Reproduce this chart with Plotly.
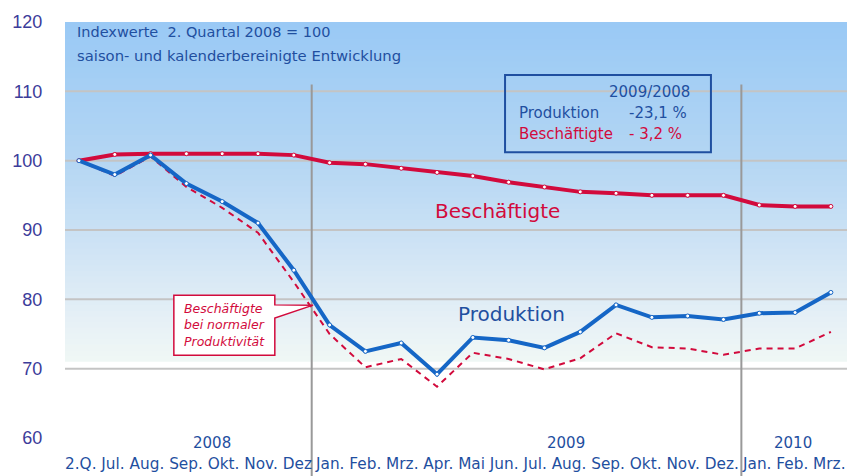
import plotly.graph_objects as go

# x categories (quarter 2/2008, then months up to March 2010)
MONTHS = ["2.Q.", "Jul.", "Aug.", "Sep.", "Okt.", "Nov.", "Dez",
          "Jan.", "Feb.", "Mrz.", "Apr.", "Mai", "Jun.", "Jul.", "Aug.",
          "Sep.", "Okt.", "Nov.", "Dez.", "Jan.", "Feb.", "Mrz."]
YEARS = ["2008", "2009", "2010"]

# index values, 2. Quartal 2008 = 100
PRODUKTION = [100.0, 98.0, 100.8, 96.7, 94.1, 91.0, 84.2, 76.3, 72.5, 73.7, 69.2,
              74.5, 74.1, 73.0, 75.3, 79.2, 77.4, 77.6, 77.1, 78.0, 78.1, 81.0]
BESCHAEFTIGTE = [100.0, 100.9, 101.0, 101.0, 101.0, 101.0, 100.8, 99.7, 99.5, 98.9, 98.3,
                 97.8, 96.9, 96.2, 95.5, 95.3, 95.0, 95.0, 95.0, 93.6, 93.4, 93.4]
NORMALE_PRODUKTIVITAET = [100.0, 97.8, 100.6, 96.2, 93.2, 89.6, 82.5, 75.0, 70.2, 71.4, 67.4,
                          72.3, 71.4, 69.9, 71.5, 75.1, 73.1, 72.9, 72.0, 72.9, 72.9, 75.3]

Y_TICKS = [60, 70, 80, 90, 100, 110, 120]
GRID_LINES = [70, 80, 90, 100, 110]
YEAR_BREAKS = [6.5, 18.5]

VERAENDERUNG = {"Produktion": "-23,1 %", "Beschäftigte": "- 3,2 %"}

BLUE = "#1566c6"
RED = "#d20a3c"
TEXT_BLUE = "#1f4fa0"
FONT = "DejaVu Sans"

x = list(range(len(MONTHS)))
X_RANGE = [-0.39, 21.45]

fig = go.Figure()

fig.add_trace(go.Scatter(
    x=x, y=NORMALE_PRODUKTIVITAET, mode="lines",
    line=dict(color=RED, width=2, dash="6px,5px"),
    hoverinfo="skip", showlegend=False
))
fig.add_trace(go.Scatter(
    x=x, y=BESCHAEFTIGTE, mode="lines+markers",
    line=dict(color=RED, width=4),
    marker=dict(size=4, color="white", line=dict(color=RED, width=1)),
    name="Beschäftigte", showlegend=False
))
fig.add_trace(go.Scatter(
    x=x, y=PRODUKTION, mode="lines+markers",
    line=dict(color=BLUE, width=4),
    marker=dict(size=4, color="white", line=dict(color=BLUE, width=1)),
    name="Produktion", showlegend=False
))

# background gradient (blue at top fading to near white around 71)
stops = [(120, (153, 201, 245)), (100, (180, 214, 243)), (85, (212, 230, 245)),
         (76, (232, 241, 246)), (71, (240, 247, 245))]
shapes = []
steps = 60
top, bottom = 120.0, 71.0
band = (top - bottom) / steps
for i in range(steps):
    y0 = top - band * i
    y1 = y0 - band
    ym = (y0 + y1) / 2
    for (ya, ca), (yb, cb) in zip(stops[:-1], stops[1:]):
        if yb <= ym <= ya:
            t = (ya - ym) / (ya - yb)
            c = [round(ca[k] + (cb[k] - ca[k]) * t) for k in range(3)]
            break
    # overlap the bands a little so no seams show between them
    lo = y1 - (band * 0.6 if i < steps - 1 else 0)
    shapes.append(dict(type="rect", xref="paper", yref="y", x0=0, x1=1, y0=lo, y1=y0,
                       fillcolor=f"rgb({c[0]},{c[1]},{c[2]})", line=dict(width=0),
                       layer="below"))

for g in GRID_LINES:
    shapes.append(dict(type="line", xref="paper", yref="y", x0=0, x1=1, y0=g, y1=g,
                       line=dict(color="#c4c4c4", width=2), layer="between"))

for b in YEAR_BREAKS:
    shapes.append(dict(type="line", xref="x", yref="paper", x0=b, x1=b, y0=-0.092, y1=0.85,
                       line=dict(color="#999999", width=2), layer="between"))

# box with 2009/2008 changes
shapes.append(dict(type="rect", xref="x", yref="y", x0=11.9, x1=17.65, y0=101.2, y1=112.35,
                   line=dict(color="#1f4fa0", width=2), fillcolor="rgba(0,0,0,0)",
                   layer="above"))

# callout "Beschäftigte bei normaler Produktivität"
shapes.append(dict(type="path", xref="x", yref="y",
                   path="M 2.65,80.6 L 5.47,80.6 L 5.47,79.2 L 6.54,79.16 L 5.47,77.3 "
                        "L 5.47,71.95 L 2.65,71.95 Z",
                   fillcolor="white", line=dict(color=RED, width=1.5), layer="above"))

annotations = [
    dict(x=-0.11, y=118.56, text="Indexwerte  2. Quartal 2008 = 100", xanchor="left",
         font=dict(family=FONT, size=14.5, color=TEXT_BLUE)),
    dict(x=-0.11, y=115.24, text="saison- und kalenderbereinigte Entwicklung", xanchor="left",
         font=dict(family=FONT, size=14.8, color=TEXT_BLUE)),
    dict(x=17.12, y=109.94, text="2009/2008", xanchor="right",
         font=dict(family=FONT, size=15, color=TEXT_BLUE)),
    dict(x=12.23, y=106.83, text="Produktion", xanchor="left",
         font=dict(family=FONT, size=15, color=TEXT_BLUE)),
    dict(x=15.31, y=106.83, text=VERAENDERUNG["Produktion"], xanchor="left",
         font=dict(family=FONT, size=15, color=TEXT_BLUE)),
    dict(x=12.23, y=103.84, text="Beschäftigte", xanchor="left",
         font=dict(family=FONT, size=15, color=RED)),
    dict(x=15.31, y=103.84, text=VERAENDERUNG["Beschäftigte"], xanchor="left",
         font=dict(family=FONT, size=15, color=RED)),
    dict(x=11.68, y=92.73, text="Beschäftigte",
         font=dict(family=FONT, size=20, color=RED)),
    dict(x=12.07, y=77.86, text="Produktion",
         font=dict(family=FONT, size=20, color=TEXT_BLUE)),
    dict(x=2.88, y=76.3, text="Beschäftigte<br>bei normaler<br>Produktivität",
         xanchor="left", align="left",
         font=dict(family=FONT, size=12.5, color=RED, style="italic")),
]

# year labels and month rows below the plot
year_pos = [3.72, 13.6, 19.95]
for yr, xp in zip(YEARS, year_pos):
    annotations.append(dict(x=xp, y=-0.012, yref="paper", text=yr, yanchor="middle",
                            font=dict(family=FONT, size=15, color=TEXT_BLUE)))

bounds = [X_RANGE[0]] + YEAR_BREAKS + [X_RANGE[1]]
groups = [MONTHS[:7], MONTHS[7:19], MONTHS[19:]]
for grp, x0, x1 in zip(groups, bounds[:-1], bounds[1:]):
    annotations.append(dict(x=(x0 + x1) / 2, y=-0.0625, yref="paper", text=" ".join(grp),
                            yanchor="middle",
                            font=dict(family=FONT, size=15.3, color=TEXT_BLUE)))

for a in annotations:
    a.setdefault("xref", "x")
    a.setdefault("yref", "y")
    a["showarrow"] = False

fig.update_layout(
    width=847, height=476,
    margin=dict(l=65, r=0, t=22, b=38),
    paper_bgcolor="white", plot_bgcolor="white",
    xaxis=dict(range=X_RANGE, showticklabels=False, showgrid=False, zeroline=False,
               showline=False),
    yaxis=dict(range=[60, 120], tickvals=Y_TICKS, showgrid=False, zeroline=False,
               showline=False, ticks="outside", ticklen=18, tickcolor="rgba(0,0,0,0)",
               tickfont=dict(family="Liberation Sans, Arial", size=18, color="#3c3c9a")),
    shapes=shapes,
    annotations=annotations,
    hovermode="closest",
)

# drop the default page margin so the figure sits at the window's top-left corner
fig.write_html("out.html", config={"displayModeBar": False},
               post_script="document.body.style.margin='0';")
